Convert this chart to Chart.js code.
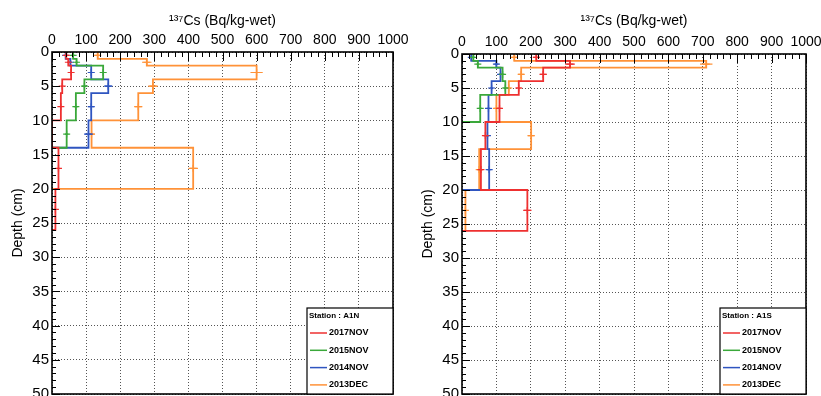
<!DOCTYPE html>
<html>
<head>
<meta charset="utf-8">
<script src="https://cdn.jsdelivr.net/npm/chart.js@4.4.1/dist/chart.umd.min.js"></script>
<style>
  html, body { margin: 0; padding: 0; background: #fff; overflow: hidden; }
  .panel { position: absolute; top: 0; height: 430px; }
  #izq { left: 0; width: 410px; }
  #der { left: 410px; width: 411px; }
</style>
</head>
<body>
<div class="panel" id="izq"><canvas id="graficoA1N"></canvas></div>
<div class="panel" id="der"><canvas id="graficoA1S"></canvas></div>
<script>
// depth bins (cm) and axis ticks
const depthEdges = [0, 1, 2, 4, 6, 10, 14, 20, 26];
const valueTicks = [0, 100, 200, 300, 400, 500, 600, 700, 800, 900, 1000];
const depthTicks = [0, 5, 10, 15, 20, 25, 30, 35, 40, 45, 50];

const seriesNames = ['2017NOV', '2015NOV', '2014NOV', '2013DEC'];
const seriesColors = ['#ee3030', '#3aa83a', '#2f55c0', '#ff9238'];

// Station A1N, 137Cs (Bq/kg-wet) per depth bin
const a1n2017 = [42, 48, 56, 30, 26, 0, 19, 10];
const a1n2015 = [62, 72, 150, 95, 70, 43];
const a1n2014 = [40, 54, 115, 165, 115, 107];
const a1n2013 = [134, 278, 600, 296, 253, 116, 414];
const a1n2017Err = [4, 4, 5, 3, 3, 0, 3, 2];
const a1n2015Err = [5, 5, 9, 7, 6, 5];
const a1n2014Err = [4, 5, 9, 12, 9, 13];
const a1n2013Err = [9, 14, 18, 14, 12, 9, 14];

// Station A1S
const a1s2017 = [216, 314, 236, 165, 109, 68, 55, 190];
const a1s2015 = [33, 46, 118, 126, 53];
const a1s2014 = [27, 100, 112, 86, 77, 74, 79];
const a1s2013 = [152, 710, 172, 136, 100, 201, 50, 10];
const a1s2017Err = [9, 14, 10, 8, 6, 6, 5, 12];
const a1s2015Err = [4, 4, 6, 7, 5];
const a1s2014Err = [3, 6, 6, 5, 5, 5, 6];
const a1s2013Err = [8, 18, 9, 7, 6, 10, 5, 2];

Chart.defaults.font.family = '"Liberation Sans", Arial, sans-serif';
Chart.defaults.color = '#000';

function stepPoints(values) {
    const pts = [];
    values.forEach((v, i) => {
        pts.push({x: v, y: depthEdges[i]});
        pts.push({x: v, y: depthEdges[i + 1]});
    });
    pts.push({x: 0, y: depthEdges[values.length]});
    return pts;
}

function errorPoints(values, errors) {
    const pts = [];
    values.forEach((v, i) => {
        if (!v) return;
        const c = (depthEdges[i] + depthEdges[i + 1]) / 2;
        pts.push({x: v - errors[i], y: c}, {x: v + errors[i], y: c}, {x: null, y: null});
    });
    return pts;
}

function markerPoints(values) {
    const pts = [];
    values.forEach((v, i) => {
        if (v) pts.push({x: v, y: (depthEdges[i] + depthEdges[i + 1]) / 2});
    });
    return pts;
}

const frameTicks = {
    id: 'frameTicks',
    afterDatasetsDraw(chart) {
        const {ctx, chartArea: a, scales: {x, y}} = chart;
        ctx.save();
        ctx.strokeStyle = '#000';
        ctx.lineWidth = 1;
        ctx.beginPath();
        for (let v = 0; v <= 1000; v += 20) {
            const px = Math.round(x.getPixelForValue(v)) + 0.5;
            ctx.moveTo(px, a.top);
            ctx.lineTo(px, a.top + (v % 100 === 0 ? 9 : 5));
        }
        for (let d = 0; d <= 50; d++) {
            const py = Math.round(y.getPixelForValue(d)) + 0.5;
            ctx.moveTo(a.left, py);
            ctx.lineTo(a.left + (d % 5 === 0 ? 8 : 4), py);
        }
        ctx.stroke();
        ctx.lineWidth = 1.6;
        ctx.strokeRect(a.left, a.top, a.right - a.left, a.bottom - a.top);
        ctx.restore();
    }
};

const stationBox = {
    id: 'stationBox',
    afterDraw(chart, args, opts) {
        const {ctx, chartArea: a} = chart;
        const left = a.right - opts.width;
        const top = a.bottom - opts.height;
        ctx.save();
        ctx.fillStyle = '#fff';
        ctx.fillRect(left, top, opts.width, opts.height);
        ctx.strokeStyle = '#000';
        ctx.lineWidth = 1.2;
        ctx.strokeRect(left, top, opts.width, opts.height);
        ctx.fillStyle = '#000';
        ctx.textBaseline = 'middle';
        ctx.font = 'bold 8px "Liberation Sans", Arial, sans-serif';
        ctx.fillText('Station : ' + opts.station, left + 2, top + 8);
        ctx.font = 'bold 9px "Liberation Sans", Arial, sans-serif';
        seriesNames.forEach((name, i) => {
            const yy = top + 25 + i * 17.3;
            ctx.strokeStyle = seriesColors[i];
            ctx.lineWidth = 1.5;
            ctx.beginPath();
            ctx.moveTo(left + 3, yy);
            ctx.lineTo(left + 20, yy);
            ctx.stroke();
            ctx.fillText(name, left + 22, yy);
        });
        ctx.restore();
    }
};

function createChart(canvasId, station, series, errors, axisTop, pad) {
    const datasets = [];
    series.forEach((values, i) => {
        datasets.push({
            data: stepPoints(values),
            borderColor: seriesColors[i],
            borderWidth: 1.8,
            pointRadius: 0,
            tension: 0
        });
        datasets.push({
            data: errorPoints(values, errors[i]),
            borderColor: seriesColors[i],
            borderWidth: 1.2,
            pointRadius: 0,
            spanGaps: false
        });
        datasets.push({
            data: markerPoints(values),
            showLine: false,
            pointStyle: 'cross',
            pointRadius: 3.5,
            pointBorderWidth: 1.2,
            pointBorderColor: seriesColors[i]
        });
    });

    new Chart(document.getElementById(canvasId), {
        type: 'line',
        data: {datasets: datasets},
        plugins: [frameTicks, stationBox],
        options: {
            responsive: true,
            maintainAspectRatio: false,
            animation: false,
            events: [],
            layout: {padding: pad},
            plugins: {
                legend: {display: false},
                tooltip: {enabled: false},
                stationBox: {station: station, width: 86, height: 86}
            },
            scales: {
                x: {
                    type: 'linear',
                    position: 'top',
                    min: 0,
                    max: 1000,
                    afterBuildTicks: s => { s.ticks = valueTicks.map(v => ({value: v})); },
                    afterFit: s => { s.height = axisTop; s.paddingLeft = 0; s.paddingRight = 0; },
                    grid: {color: '#555', lineWidth: 1, drawTicks: false},
                    border: {display: false, dash: [1, 2]},
                    ticks: {font: {size: 14}, padding: 3, maxRotation: 0, autoSkip: false, callback: v => String(v)},
                    title: {display: true, text: '¹³⁷Cs (Bq/kg-wet)', font: {size: 14}, padding: {top: 13, bottom: 0}}
                },
                y: {
                    type: 'linear',
                    reverse: true,
                    min: 0,
                    max: 50,
                    afterBuildTicks: s => { s.ticks = depthTicks.map(v => ({value: v})); },
                    afterFit: s => { s.width = 52; s.paddingTop = 0; s.paddingBottom = 0; },
                    grid: {color: '#555', lineWidth: 1, drawTicks: false},
                    border: {display: false, dash: [1, 2]},
                    ticks: {font: {size: 15}, padding: 3, autoSkip: false, callback: v => String(v)},
                    title: {display: true, text: 'Depth (cm)', font: {size: 14}, padding: {top: 10, bottom: 0}}
                }
            }
        }
    });
}

createChart('graficoA1N', 'A1N',
    [a1n2017, a1n2015, a1n2014, a1n2013],
    [a1n2017Err, a1n2015Err, a1n2014Err, a1n2013Err],
    52, {left: 0, top: 0, right: 17, bottom: 36});

createChart('graficoA1S', 'A1S',
    [a1s2017, a1s2015, a1s2014, a1s2013],
    [a1s2017Err, a1s2015Err, a1s2014Err, a1s2013Err],
    54, {left: 0, top: 0, right: 15, bottom: 36});
</script>
</body>
</html>
